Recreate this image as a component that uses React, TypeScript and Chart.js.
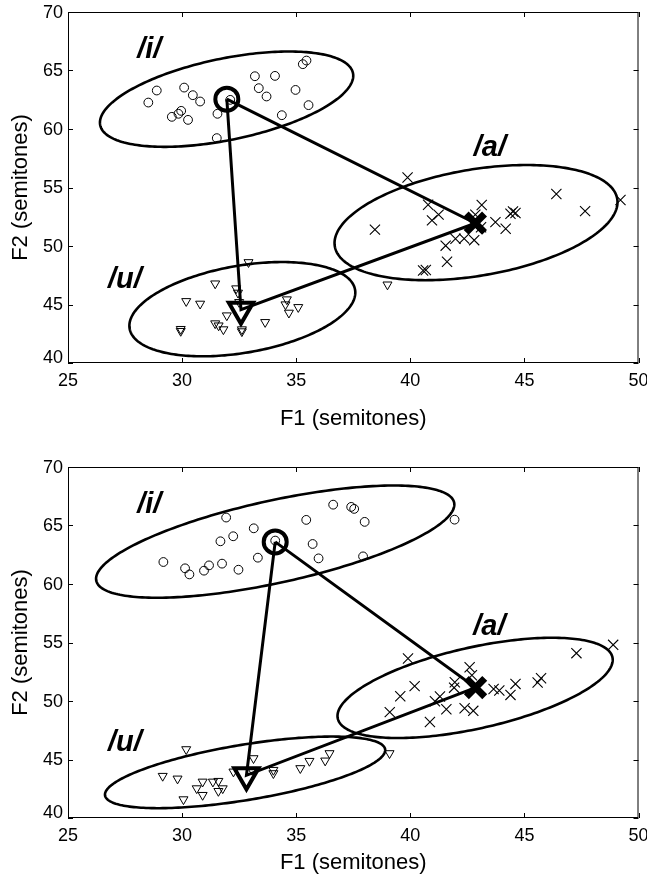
import React, { useEffect, useRef } from 'react';
import { Chart, registerables } from 'chart.js';

Chart.register(...registerables);

type P = [number, number];

// ---------- axis ticks ----------
const X_TICKS = [25, 30, 35, 40, 45, 50];
const Y_TICKS = [40, 45, 50, 55, 60, 65, 70];
const X_TITLE = 'F1 (semitones)';
const Y_TITLE = 'F2 (semitones)';
const VOWELS = ['/i/', '/a/', '/u/'];

// ---------- top panel tokens (F1, F2) ----------
const TOP_I: P[] = [
  [28.52, 62.26], [28.89, 63.29], [30.09, 63.54], [30.47, 62.89], [30.79, 62.35],
  [29.96, 61.55], [29.84, 61.3], [29.55, 61.04], [30.26, 60.78], [31.55, 61.3],
  [31.52, 59.22], [32.11, 62.49], [33.19, 64.51], [34.07, 64.54], [33.36, 63.49],
  [33.7, 62.78], [34.97, 63.34], [34.37, 61.18], [35.54, 62.04], [35.29, 65.54],
  [35.45, 65.85],
];
const TOP_A: P[] = [
  [39.88, 55.86], [40.78, 53.53], [43.13, 53.5], [40.95, 52.19], [41.24, 52.68],
  [38.45, 51.4], [43.73, 52.04], [44.18, 51.48], [44.39, 52.76], [44.61, 52.82],
  [44.5, 52.95], [46.4, 54.44], [47.66, 52.98], [49.21, 53.93], [41.55, 50.03],
  [41.98, 50.62], [42.36, 50.63], [42.8, 50.5], [41.61, 48.65], [40.56, 47.9],
  [40.68, 47.95], [42.85, 52.68], [43.1, 51.6],
];
const TOP_U: P[] = [
  [32.91, 48.61], [31.45, 46.79], [32.37, 46.37], [30.18, 45.28], [30.79, 45.06],
  [31.96, 44.06], [31.45, 43.38], [31.6, 43.2], [31.81, 42.87], [29.94, 42.73],
  [29.94, 42.9], [32.62, 42.87], [32.62, 42.7], [33.64, 43.49], [34.59, 45.43],
  [34.53, 45.0], [35.09, 44.77], [34.68, 44.29], [32.5, 45.2], [32.45, 46.0],
  [39.0, 46.7],
];
const TOP_MEAN_I: P = [31.96, 62.55];
const TOP_MEAN_A: P = [42.85, 51.95];
const TOP_MEAN_U: P = [32.58, 44.55];

// ---------- bottom panel tokens (F1, F2) ----------
const BOT_I: P[] = [
  [29.18, 61.88], [30.13, 61.34], [30.32, 60.82], [30.96, 61.14], [31.18, 61.59],
  [31.75, 61.74], [32.47, 61.22], [31.68, 63.65], [32.24, 64.08], [31.93, 65.68],
  [33.14, 64.76], [33.32, 62.25], [34.08, 63.71], [35.44, 65.48], [35.72, 63.42],
  [35.98, 62.19], [36.62, 66.78], [37.41, 66.59], [37.54, 66.42], [38.0, 65.31],
  [37.93, 62.36], [41.94, 65.5],
];
const BOT_A: P[] = [
  [39.9, 53.63], [42.6, 52.88], [40.19, 51.27], [39.56, 50.41], [39.1, 49.05],
  [40.86, 48.2], [41.3, 50.38], [41.08, 49.98], [41.58, 49.3], [41.95, 51.6],
  [41.92, 51.14], [42.38, 49.38], [42.76, 49.16], [43.65, 51.02], [43.9, 50.9],
  [44.61, 51.46], [44.39, 50.52], [45.58, 51.58], [45.73, 51.95], [47.28, 54.09],
  [48.89, 54.8], [42.7, 52.2],
];
const BOT_U: P[] = [
  [30.18, 45.87], [29.15, 43.59], [29.8, 43.36], [30.06, 41.59], [30.64, 42.53],
  [30.9, 43.1], [30.9, 41.96], [31.35, 43.1], [31.59, 43.16], [31.59, 42.3],
  [31.78, 42.53], [32.25, 43.96], [33.13, 45.1], [33.06, 44.1], [34.0, 44.1],
  [34.0, 43.82], [35.18, 44.25], [35.58, 44.87], [36.27, 44.9], [36.46, 45.53],
  [39.09, 45.53],
];
const BOT_MEAN_I: P = [34.08, 63.6];
const BOT_MEAN_A: P = [42.86, 51.15];
const BOT_MEAN_U: P = [32.82, 43.65];

// ---------- ellipses: centre, half-vector to rightmost point, vertical half-chord ----------
const TOP_ELL_CX = [31.95, 42.88, 32.64];
const TOP_ELL_CY = [62.55, 52.0, 44.6];
const TOP_ELL_UX = [5.55, 6.2, 4.95];
const TOP_ELL_UY = [2.0, 1.75, 1.42];
const TOP_ELL_H = [3.55, 4.6, 3.77];

const BOT_ELL_CX = [34.08, 42.84, 32.76];
const BOT_ELL_CY = [63.62, 51.12, 43.9];
const BOT_ELL_UX = [7.85, 6.03, 6.14];
const BOT_ELL_UY = [3.17, 2.4, 1.9];
const BOT_ELL_H = [3.6, 3.55, 2.4];

// ---------- vowel label anchors (data coords) ----------
const TOP_LABEL_POS: P[] = [[28.03, 66.05], [42.78, 57.71], [26.75, 46.37]];
const BOT_LABEL_POS: P[] = [[28.03, 66.1], [42.76, 55.66], [26.75, 45.75]];

const FONT = '"Liberation Sans", Arial, Helvetica, sans-serif';

const overlayPlugin = {
  id: 'overlay',
  beforeDatasetsDraw(chart: any, _args: any, opts: any) {
    const { ctx } = chart;
    const x = chart.scales.x;
    const y = chart.scales.y;
    ctx.save();
    ctx.strokeStyle = '#000';
    ctx.lineWidth = 2.6;
    const e = opts.ell;
    for (let i = 0; i < e.cx.length; i++) {
      ctx.beginPath();
      for (let k = 0; k <= 240; k++) {
        const t = (k / 240) * Math.PI * 2;
        const px = x.getPixelForValue(e.cx[i] + e.ux[i] * Math.cos(t));
        const py = y.getPixelForValue(e.cy[i] + e.uy[i] * Math.cos(t) + e.h[i] * Math.sin(t));
        if (k === 0) ctx.moveTo(px, py);
        else ctx.lineTo(px, py);
      }
      ctx.closePath();
      ctx.stroke();
    }
    ctx.restore();
  },
  afterDraw(chart: any, _args: any, opts: any) {
    const { ctx, chartArea: a } = chart;
    const x = chart.scales.x;
    const y = chart.scales.y;
    ctx.save();
    ctx.strokeStyle = '#000';
    ctx.lineWidth = 1;
    ctx.strokeRect(a.left + 0.5, a.top + 0.5, a.right - a.left - 1, a.bottom - a.top - 1);
    ctx.beginPath();
    const tl = 5;
    for (const v of X_TICKS) {
      const px = Math.round(x.getPixelForValue(v)) + 0.5;
      ctx.moveTo(px, a.bottom);
      ctx.lineTo(px, a.bottom - tl);
      ctx.moveTo(px, a.top);
      ctx.lineTo(px, a.top + tl);
    }
    for (const v of Y_TICKS) {
      const py = Math.round(y.getPixelForValue(v)) + 0.5;
      ctx.moveTo(a.left, py);
      ctx.lineTo(a.left + tl, py);
      ctx.moveTo(a.right, py);
      ctx.lineTo(a.right - tl, py);
    }
    ctx.stroke();

    // tick labels
    ctx.fillStyle = '#000';
    ctx.font = `18px ${FONT}`;
    ctx.textAlign = 'center';
    ctx.textBaseline = 'top';
    for (const v of X_TICKS) {
      ctx.fillText(String(v), x.getPixelForValue(v), a.bottom + 9);
    }
    ctx.textAlign = 'right';
    ctx.textBaseline = 'middle';
    Y_TICKS.forEach((v, i) => {
      const shift = i === 0 ? -6 : 0;
      ctx.fillText(String(v), a.left - 5, y.getPixelForValue(v) + shift + 1);
    });

    // vowel labels
    ctx.font = `italic bold 29px ${FONT}`;
    ctx.textAlign = 'left';
    ctx.textBaseline = 'alphabetic';
    opts.labels.forEach((p: P, i: number) => {
      ctx.fillText(VOWELS[i], x.getPixelForValue(p[0]), y.getPixelForValue(p[1]));
    });
    ctx.restore();
  },
};

const toXY = (arr: P[]) => arr.map(([a, b]) => ({ x: a, y: b }));

function makeConfig(
  pts: { i: P[]; a: P[]; u: P[] },
  means: { i: P; a: P; u: P },
  ell: any,
  labels: P[],
  padTop: number,
  xAxisH: number,
  titlePadBottom: number
): any {
  const black = '#000';
  return {
    type: 'scatter',
    data: {
      datasets: [
        { data: toXY([means.i]), pointStyle: 'circle', pointRadius: 11.5, borderWidth: 4, borderColor: black, backgroundColor: 'transparent', order: 0 },
        { data: toXY([means.a]), pointStyle: 'crossRot', pointRadius: 13, borderWidth: 7, borderColor: black, backgroundColor: black, order: 0 },
        { data: toXY([means.u]), pointStyle: 'triangle', rotation: 180, pointRadius: 14, borderWidth: 4, borderColor: black, backgroundColor: 'transparent', order: 0 },
        { data: toXY([means.i, means.a, means.u, means.i]), showLine: true, borderWidth: 3, borderColor: black, pointRadius: 0, order: 1 },
        { data: toXY(pts.i), pointStyle: 'circle', pointRadius: 4.4, borderWidth: 1, borderColor: black, backgroundColor: 'transparent', order: 2 },
        { data: toXY(pts.a), pointStyle: 'crossRot', pointRadius: 7.2, borderWidth: 1.1, borderColor: black, order: 2 },
        { data: toXY(pts.u), pointStyle: 'triangle', rotation: 180, pointRadius: 5.2, borderWidth: 1, borderColor: black, backgroundColor: 'transparent', order: 2 },
      ],
    },
    options: {
      responsive: false,
      animation: false,
      events: [],
      devicePixelRatio: 1,
      layout: { autoPadding: false, padding: { top: padTop, right: 8.5, left: 0, bottom: 0 } },
      plugins: {
        legend: { display: false },
        tooltip: { enabled: false },
        overlay: { ell, labels },
      },
      scales: {
        x: {
          type: 'linear',
          min: X_TICKS[0],
          max: X_TICKS[X_TICKS.length - 1],
          ticks: { display: false },
          grid: { display: false, drawTicks: false },
          border: { display: false },
          title: { display: true, text: X_TITLE, color: black, font: { family: FONT, size: 22 }, padding: { top: 0, bottom: titlePadBottom } },
          afterFit: (s: any) => { s.height = xAxisH; },
        },
        y: {
          type: 'linear',
          min: Y_TICKS[0],
          max: Y_TICKS[Y_TICKS.length - 1],
          ticks: { display: false },
          grid: { display: false, drawTicks: false },
          border: { display: false },
          title: { display: true, text: Y_TITLE, color: black, font: { family: FONT, size: 22 }, padding: { top: 8, bottom: 0 } },
          afterFit: (s: any) => { s.width = 68; },
        },
      },
    },
    plugins: [overlayPlugin],
  };
}

export default function App() {
  const topRef = useRef<HTMLCanvasElement>(null);
  const botRef = useRef<HTMLCanvasElement>(null);

  useEffect(() => {
    const c1 = new Chart(
      topRef.current as HTMLCanvasElement,
      makeConfig(
        { i: TOP_I, a: TOP_A, u: TOP_U },
        { i: TOP_MEAN_I, a: TOP_MEAN_A, u: TOP_MEAN_U },
        { cx: TOP_ELL_CX, cy: TOP_ELL_CY, ux: TOP_ELL_UX, uy: TOP_ELL_UY, h: TOP_ELL_H },
        TOP_LABEL_POS,
        12,
        80,
        11
      )
    );
    const c2 = new Chart(
      botRef.current as HTMLCanvasElement,
      makeConfig(
        { i: BOT_I, a: BOT_A, u: BOT_U },
        { i: BOT_MEAN_I, a: BOT_MEAN_A, u: BOT_MEAN_U },
        { cx: BOT_ELL_CX, cy: BOT_ELL_CY, ux: BOT_ELL_UX, uy: BOT_ELL_UY, h: BOT_ELL_H },
        BOT_LABEL_POS,
        24,
        68,
        10
      )
    );
    return () => {
      c1.destroy();
      c2.destroy();
    };
  }, []);

  return (
    <div style={{ position: 'absolute', left: 0, top: 0, width: 647, height: 886, background: '#fff' }}>
      <canvas ref={topRef} width={647} height={443} style={{ display: 'block' }} />
      <canvas ref={botRef} width={647} height={443} style={{ display: 'block' }} />
    </div>
  );
}
